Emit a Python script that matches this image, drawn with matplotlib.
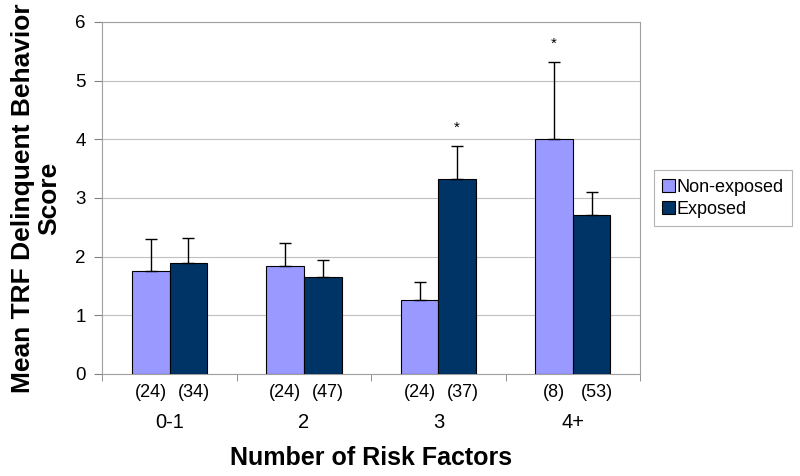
import matplotlib
matplotlib.use("Agg")
import matplotlib.pyplot as plt
import numpy as np

plt.rcParams['font.family'] = ['Liberation Sans', 'DejaVu Sans']

categories = ["0-1", "2", "3", "4+"]
series_names = ["Non-exposed", "Exposed"]
non_exposed = [1.75, 1.84, 1.26, 4.01]
exposed = [1.89, 1.65, 3.33, 2.71]
non_exposed_err = [0.55, 0.40, 0.30, 1.31]
exposed_err = [0.43, 0.30, 0.55, 0.40]
non_exposed_n = ["(24)", "(24)", "(24)", "(8)"]
exposed_n = ["(34)", "(47)", "(37)", "(53)"]
significant_non = [False, False, False, True]
significant_exp = [False, False, True, False]
yticks = [0, 1, 2, 3, 4, 5, 6]

c_non = "#9999FF"
c_exp = "#003366"

fig = plt.figure(figsize=(8, 4.76), dpi=100)
ax = fig.add_axes([0.128, 0.2143, 0.672, 0.7395])

x = np.arange(len(categories))
w = 0.28
x_non = x - w / 2
x_exp = x + w / 2

ax.bar(x_non, non_exposed, w, color=c_non, edgecolor="black", linewidth=0.8,
       label=series_names[0], zorder=3)
ax.bar(x_exp, exposed, w, color=c_exp, edgecolor="black", linewidth=0.8,
       label=series_names[1], zorder=3)

ax.errorbar(x_non, non_exposed, yerr=[np.zeros(4), non_exposed_err], fmt="none",
            ecolor="black", elinewidth=1, capsize=4, capthick=1, zorder=4)
ax.errorbar(x_exp, exposed, yerr=[np.zeros(4), exposed_err], fmt="none",
            ecolor="black", elinewidth=1, capsize=4, capthick=1, zorder=4)

for xi, v, e, s in zip(x_non, non_exposed, non_exposed_err, significant_non):
    if s:
        ax.annotate("*", (xi, v + e), xytext=(0, 8), textcoords="offset points",
                    ha="center", va="bottom", fontsize=11)
for xi, v, e, s in zip(x_exp, exposed, exposed_err, significant_exp):
    if s:
        ax.annotate("*", (xi, v + e), xytext=(0, 8), textcoords="offset points",
                    ha="center", va="bottom", fontsize=11)

for xi, t in zip(x_non, non_exposed_n):
    ax.annotate(t, (xi, 0), xycoords=("data", "axes fraction"), xytext=(0, -13.5),
                textcoords="offset points", ha="center", va="center", fontsize=13)
for xi, t in zip(x_exp, exposed_n):
    ax.annotate(t, (xi + 0.04, 0), xycoords=("data", "axes fraction"), xytext=(0, -13.5),
                textcoords="offset points", ha="center", va="center", fontsize=13)

ax.set_xlim(-0.5, len(categories) - 0.5)
ax.set_ylim(0, 6)
ax.set_yticks(yticks)
ax.set_yticklabels([str(t) for t in yticks], fontsize=13.5)
ax.set_xticks(x)
ax.set_xticklabels(categories, fontsize=14.5)
ax.tick_params(axis="x", which="major", length=0, pad=28)
ax.set_xticks(np.arange(len(categories) + 1) - 0.5, minor=True)
ax.tick_params(axis="x", which="minor", length=5, color="#808080", direction="out")
ax.tick_params(axis="y", length=6, color="#808080", direction="out", pad=6)

ax.yaxis.grid(True, color="#c0c0c0", linewidth=0.8, zorder=0)
ax.set_axisbelow(True)
for sp in ax.spines.values():
    sp.set_color("#a0a0a0")
    sp.set_linewidth(0.8)

ax.set_xlabel("Number of Risk Factors", fontsize=18, fontweight="bold", labelpad=10.5)
ax.set_ylabel("Mean TRF Delinquent Behavior\nScore", fontsize=19, fontweight="bold",
              labelpad=10, linespacing=1.12)

leg = ax.legend(loc="center left", bbox_to_anchor=(0.8175, 0.5835),
                bbox_transform=fig.transFigure, fontsize=13, frameon=True,
                fancybox=False, edgecolor="#a0a0a0", handlelength=0.7,
                handleheight=0.7, handletextpad=0.1, borderpad=0.45,
                labelspacing=0.3, borderaxespad=0)
leg.get_frame().set_linewidth(0.8)

fig.savefig("out.png", dpi=100)
